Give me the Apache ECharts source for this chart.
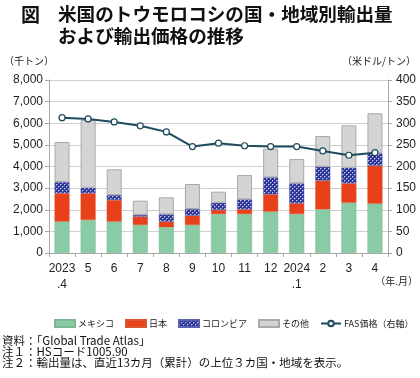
<!DOCTYPE html>
<html><head><meta charset="utf-8">
<script src="https://cdn.jsdelivr.net/npm/echarts@6/dist/echarts.min.js"></script>
<style>html,body{margin:0;padding:0;background:#fff}#c{width:420px;height:378px}</style>
</head><body><div id="c"></div>
<script>
const categories = ['2023\n.4','5','6','7','8','9','10','11','12','2024\n.1','2','3','4'];
const mexico   = [1450,1525,1450,1295,1190,1295,1800,1800,1910,1800,2020,2325,2280];
const japan    = [1310,1235,1000, 385, 260, 430, 190, 220, 805, 495,1325, 895,1755];
const colombia = [ 520, 260, 230,  80, 340, 310, 335, 460, 785, 925, 645, 725, 575];
const other    = [1850,3130,1190, 660, 785,1155, 510,1125,1325,1125,1420,1960,1850];
const fasPrice = [ 313, 310, 303, 294, 280, 246, 254, 248, 246, 246, 236, 226, 232];
const leftTicks = [0,1000,2000,3000,4000,5000,6000,7000,8000];

function dotPattern(){
  const cv=document.createElement('canvas');cv.width=4;cv.height=4;
  const g=cv.getContext('2d');
  g.fillStyle='#2b3493';g.fillRect(0,0,4,4);
  g.fillStyle='#c8ccf0';g.fillRect(0,0,1,1);g.fillRect(2,2,1,1);
  g.fillStyle='#6a72c0';g.fillRect(1,0,1,1);g.fillRect(0,1,1,1);g.fillRect(3,2,1,1);g.fillRect(2,3,1,1);
  return cv;
}
function greenPattern(){
  const cv=document.createElement('canvas');cv.width=2;cv.height=2;
  const g=cv.getContext('2d');
  g.fillStyle='#80c69d';g.fillRect(0,0,2,2);
  g.fillStyle='#95d0ad';g.fillRect(0,0,1,1);g.fillRect(1,1,1,1);
  return cv;
}
const chart = echarts.init(document.getElementById('c'),null,{renderer:'canvas'});
const labelFont = {fontFamily:'Liberation Sans, Arial, sans-serif', fontSize:12, color:'#222'};
const barW = 15;
chart.setOption({
  animation:false,
  textStyle:{fontFamily:'Noto Sans CJK JP, sans-serif'},
  grid:{left:49,right:32,top:80,bottom:125,containLabel:false},
  legend:{
    left:49, top:314, width:400, itemWidth:20, itemHeight:7, itemGap:11,
    textStyle:{fontSize:9,color:'#222',fontFamily:'Noto Sans CJK JP, sans-serif',padding:[0,0,0,-2]},
    data:[
      {name:'メキシコ',icon:'rect'},{name:'日本',icon:'rect'},{name:'コロンビア',icon:'rect'},{name:'その他',icon:'rect'},
      {name:'FAS価格（右軸）'}
    ]
  },
  xAxis:{
    type:'category', data:categories,
    axisLine:{lineStyle:{color:'#a8a8a8'}},
    axisTick:{show:true,length:4,lineStyle:{color:'#a8a8a8'}},
    axisLabel:Object.assign({margin:8,lineHeight:16,interval:0},labelFont)
  },
  yAxis:[
    {type:'value',min:0,max:8000,interval:1000,
     axisLine:{show:true,lineStyle:{color:'#a8a8a8'}},
     axisTick:{show:true,length:4,lineStyle:{color:'#a8a8a8'}},
     splitLine:{lineStyle:{color:'#cfcfcf'}},
     axisLabel:Object.assign({margin:6,formatter:v=>v.toLocaleString('en-US')},labelFont)},
    {type:'value',min:0,max:400,interval:50,position:'right',
     axisLine:{show:true,lineStyle:{color:'#a8a8a8'}},
     axisTick:{show:true,length:4,lineStyle:{color:'#a8a8a8'}},
     splitLine:{show:false},
     axisLabel:Object.assign({margin:8},labelFont)}
  ],
  series:[
    {name:'メキシコ',type:'bar',stack:'a',barWidth:barW,data:mexico,
     itemStyle:{color:{image:greenPattern(),repeat:'repeat'},borderColor:'#7cb894',borderWidth:0.5}},
    {name:'日本',type:'bar',stack:'a',barWidth:barW,data:japan,
     itemStyle:{color:'#e8401b',borderColor:'#d8552e',borderWidth:0.5}},
    {name:'コロンビア',type:'bar',stack:'a',barWidth:barW,data:colombia,
     itemStyle:{color:{image:dotPattern(),repeat:'repeat'},borderColor:'#5a63b0',borderWidth:0.5}},
    {name:'その他',type:'bar',stack:'a',barWidth:barW,data:other,
     itemStyle:{color:'#d4d4d4',borderColor:'#a9a9a9',borderWidth:1}},
    {name:'FAS価格（右軸）',type:'line',yAxisIndex:1,data:fasPrice,
     symbol:'circle',symbolSize:6,
     lineStyle:{color:'#1d4a5c',width:2},
     itemStyle:{color:'#fff',borderColor:'#1d4a5c',borderWidth:1.2}}
  ],
  graphic:[
    {type:'text',left:21,top:5,style:{text:'図',fontSize:19,fontWeight:'bold',fill:'#111',fontFamily:'Noto Sans CJK JP'}},
    {type:'text',left:58,top:5,style:{text:'米国のトウモロコシの国・地域別輸出量',fontSize:18.6,fontWeight:'bold',fill:'#111',fontFamily:'Noto Sans CJK JP'}},
    {type:'text',left:58,top:27,style:{text:'および輸出価格の推移',fontSize:18.6,fontWeight:'bold',fill:'#111',fontFamily:'Noto Sans CJK JP'}},
    {type:'text',left:4,top:56,style:{text:'（千トン）',fontSize:10,fill:'#222',fontFamily:'Noto Sans CJK JP'}},
    {type:'text',right:4,top:56,style:{text:'（米ドル/トン）',fontSize:10,fill:'#222',fontFamily:'Noto Sans CJK JP'}},
    {type:'text',right:2,top:276,style:{text:'（年.月）',fontSize:10,fill:'#222',fontFamily:'Noto Sans CJK JP'}},
    {type:'text',left:2,top:335,style:{text:'資料：「Global Trade Atlas」',fontSize:11.5,fill:'#111',fontFamily:'Noto Sans CJK JP'}},
    {type:'text',left:2,top:346,style:{text:'注１：HSコード1005.90',fontSize:11.5,fill:'#111',fontFamily:'Noto Sans CJK JP'}},
    {type:'text',left:2,top:357,style:{text:'注２：輸出量は、直近13カ月（累計）の上位３カ国・地域を表示。',fontSize:11.5,fill:'#111',fontFamily:'Noto Sans CJK JP'}}
  ]
});
</script></body></html>
